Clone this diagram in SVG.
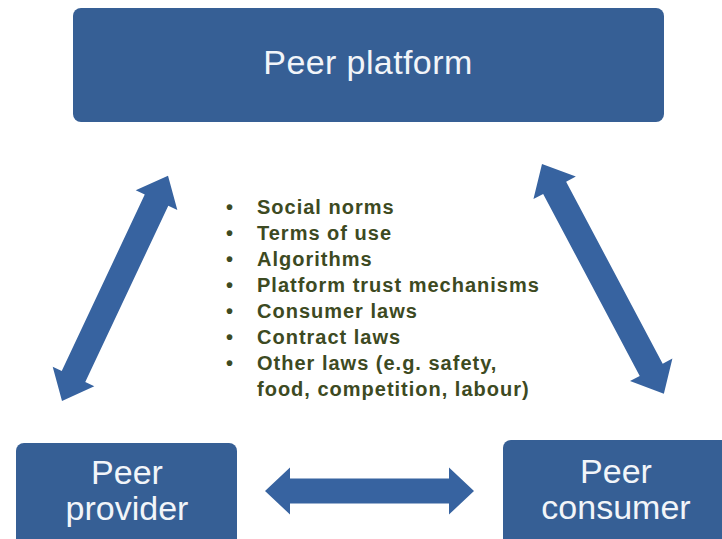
<svg xmlns="http://www.w3.org/2000/svg" width="722" height="539" viewBox="0 0 722 539">
  <style>
    .box { fill: #365f95; }
    .arrow { fill: #3763a0; }
    .label { font-family: "Liberation Sans", Arial, sans-serif; font-size: 34px; fill: #f2f5f9; text-anchor: middle; }
    .item { font-family: "Liberation Sans", Arial, sans-serif; font-size: 20px; font-weight: bold; fill: #3d4a22; letter-spacing: 1px; }
  </style>
  <rect width="722" height="539" fill="#ffffff"/>

  <g id="connectors">
    <polygon class="arrow" transform="translate(62,401) rotate(-64.8)" points="0,0 27,-23 27,-13 222,-13 222,-23 249,0 222,23 222,13 27,13 27,23"/>
    <polygon class="arrow" transform="translate(542,164) rotate(62.05)" points="0,0 27,-24 27,-13 233,-13 233,-24 260,0 233,24 233,13 27,13 27,24"/>
    <polygon class="arrow" transform="translate(265,491)" points="0,0 25,-23.5 25,-12.5 184,-12.5 184,-23.5 209,0 184,23.5 184,12.5 25,12.5 25,23.5"/>
  </g>

  <g id="peer-platform">
    <rect class="box" x="73" y="8" width="591" height="114" rx="8"/>
    <text class="label" x="368" y="74" letter-spacing="0.4">Peer platform</text>
  </g>

  <g id="peer-provider">
    <rect class="box" x="16" y="443" width="221" height="110" rx="8"/>
    <text class="label" x="127" y="484">Peer</text>
    <text class="label" x="127" y="520">provider</text>
  </g>

  <g id="peer-consumer">
    <rect class="box" x="503" y="440" width="230" height="110" rx="8"/>
    <text class="label" x="616" y="483">Peer</text>
    <text class="label" x="616" y="519">consumer</text>
  </g>

  <g id="governance-list">
    <text class="item" x="226" y="214">•</text><text class="item" x="257" y="214">Social norms</text>
    <text class="item" x="226" y="240">•</text><text class="item" x="257" y="240">Terms of use</text>
    <text class="item" x="226" y="266">•</text><text class="item" x="257" y="266">Algorithms</text>
    <text class="item" x="226" y="292">•</text><text class="item" x="257" y="292">Platform trust mechanisms</text>
    <text class="item" x="226" y="318">•</text><text class="item" x="257" y="318">Consumer laws</text>
    <text class="item" x="226" y="344">•</text><text class="item" x="257" y="344">Contract laws</text>
    <text class="item" x="226" y="370">•</text><text class="item" x="257" y="370">Other laws (e.g. safety,</text>
    <text class="item" x="257" y="396">food, competition, labour)</text>
  </g>
</svg>
